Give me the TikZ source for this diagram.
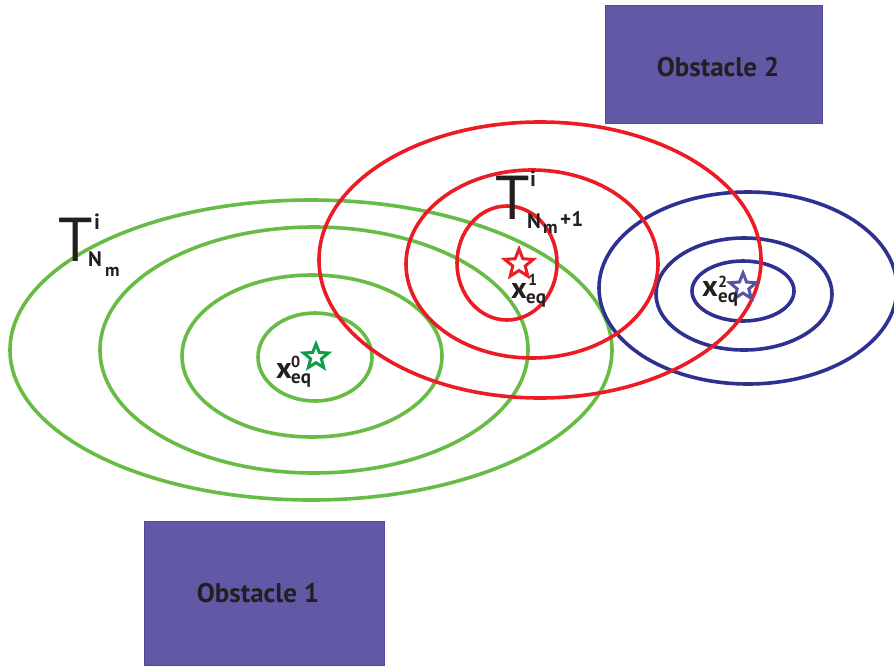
\documentclass[tikz,border=0pt]{standalone}
\usepackage{fontspec}
\setmainfont{PT Sans}
\usetikzlibrary{shapes.geometric}
\definecolor{grl}{HTML}{67BC45}
\definecolor{grs}{HTML}{0F9D4A}
\definecolor{rd}{HTML}{EC1C24}
\definecolor{bl}{HTML}{2E3192}
\definecolor{bls}{HTML}{5553A5}
\definecolor{obfill}{HTML}{6159A6}
\definecolor{obdraw}{HTML}{4F4BA0}
\definecolor{txt}{HTML}{231F20}
\tikzset{
  ring/.style={line width=3.6pt},
  obst/.style={fill=obfill, draw=obdraw, line width=1pt, inner sep=0pt},
  obtext/.style={inner sep=0pt, text=txt, font=\bfseries\fontsize{27}{27}\selectfont},
  eqstar/.style={star, star points=5, star point ratio=2.3, line width=3pt, fill=white, inner sep=0pt, minimum size=#1},
  lbl/.style={anchor=base west, inner sep=0pt, text=txt},
  bigT/.style={lbl, font=\fontsize{62}{62}\selectfont},
  supi/.style={lbl, font=\bfseries\fontsize{22}{22}\selectfont},
  subN/.style={lbl, font=\bfseries\fontsize{21}{21}\selectfont},
  subm/.style={lbl, font=\bfseries\fontsize{18}{18}\selectfont},
  xlet/.style={lbl, font=\bfseries\fontsize{30}{30}\selectfont},
  xsup/.style={lbl, font=\bfseries\fontsize{16}{16}\selectfont},
  xsub/.style={lbl, font=\bfseries\fontsize{19}{19}\selectfont},
}
\begin{document}
\begin{tikzpicture}[x=1pt,y=-1pt]
\useasboundingbox (0,0) rectangle (894,667);
\fill[white] (0,0) rectangle (894,667);
\clip (0,0) rectangle (894,667);
% obstacles
\node[obst, minimum width=240pt, minimum height=144pt] (ob1) at (264,593) {};
\node[obtext] (ob1t) at (258,593) {Obstacle 1};
\node[obst, minimum width=217pt, minimum height=118pt] (ob2) at (713.5,64) {};
\node[obtext] (ob2t) at (718,67) {Obstacle 2};
% green ellipses
\draw[ring, grl] (315,357) ellipse [x radius=57, y radius=44];
\draw[ring, grl] (312,356) ellipse [x radius=130, y radius=81];
\draw[ring, grl] (314,350) ellipse [x radius=214, y radius=123];
\draw[ring, grl] (311,350) ellipse [x radius=301, y radius=150];
% blue ellipses
\draw[ring, bl] (743,291) ellipse [x radius=51, y radius=30];
\draw[ring, bl] (744,294) ellipse [x radius=88, y radius=56];
\draw[ring, bl] (748,288) ellipse [x radius=149, y radius=96];
% red ellipses
\draw[ring, rd] (507,263) ellipse [x radius=50, y radius=57];
\draw[ring, rd] (532,264) ellipse [x radius=126, y radius=94];
\draw[ring, rd] (540,260) ellipse [x radius=221, y radius=138];
% stars
\node[eqstar=26pt, draw=grs] (s0) at (316,357) {};
\node[eqstar=30pt, draw=rd] (s1) at (519,264) {};
\node[eqstar=28pt, draw=bls] (s2) at (743,287) {};
% T labels
\node[bigT] (T1) at (58,261) {T};
\node[supi] (T1i) at (94,229) {i};
\node[subN] (T1N) at (88,266) {N};
\node[subm] (T1m) at (105,276) {m};
\node[bigT] (T2) at (495,219) {T};
\node[supi] (T2i) at (530,186) {i};
\node[subN] (T2N) at (527,228) {N};
\node[subm] (T2m) at (543,233) {m};
\node[subN] (T2p) at (560,226) {+1};
% x labels
\node[xlet] (x0) at (276,378) {x};
\node[xsup] (x0s) at (291,367) {0};
\node[xsub] (x0e) at (291,383) {eq};
\node[xlet] (x1) at (511,298) {x};
\node[xsup] (x1s) at (528,285) {1};
\node[xsub] (x1e) at (526,303) {eq};
\node[xlet] (x2) at (702,296) {x};
\node[xsup] (x2s) at (718,287) {2};
\node[xsub] (x2e) at (718,302) {eq};
\end{tikzpicture}
\end{document}
